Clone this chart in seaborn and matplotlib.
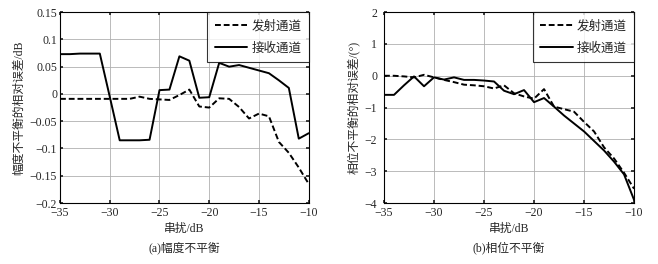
import numpy as np
import pandas as pd
import matplotlib
matplotlib.use("Agg")
import matplotlib.pyplot as plt
import seaborn as sns

# --- data ---
crosstalk = list(range(-35, -9))

amp_tx = [-0.009, -0.009, -0.009, -0.009, -0.009, -0.009, -0.009, -0.009, -0.005, -0.009,
          -0.010, -0.011, -0.002, 0.008, -0.023, -0.025, -0.008, -0.009, -0.024, -0.045,
          -0.036, -0.041, -0.088, -0.108, -0.135, -0.165]
amp_rx = [0.073, 0.073, 0.074, 0.074, 0.074, -0.005, -0.085, -0.085, -0.085, -0.084,
          0.007, 0.008, 0.069, 0.061, -0.007, -0.006, 0.057, 0.050, 0.053, 0.048,
          0.043, 0.038, 0.025, 0.011, -0.082, -0.072]

ph_tx = [0.0, 0.0, -0.02, -0.05, 0.03, -0.05, -0.13, -0.2, -0.28, -0.3,
         -0.33, -0.4, -0.3, -0.55, -0.65, -0.72, -0.42, -0.97, -1.05, -1.13,
         -1.45, -1.75, -2.25, -2.6, -3.05, -3.55]
ph_rx = [-0.6, -0.6, -0.3, -0.02, -0.33, -0.05, -0.12, -0.05, -0.13, -0.13,
         -0.15, -0.18, -0.47, -0.58, -0.45, -0.83, -0.7, -0.97, -1.25, -1.5,
         -1.75, -2.05, -2.35, -2.7, -3.1, -3.9]

series_names = ["发射通道", "接收通道"]

# --- style ---
sns.set_theme(style="ticks")
plt.rcParams['font.family'] = ['Liberation Serif', 'Noto Sans CJK SC']
plt.rcParams['axes.unicode_minus'] = True
plt.rcParams['xtick.direction'] = 'in'
plt.rcParams['ytick.direction'] = 'in'

fig = plt.figure(figsize=(6.58, 2.64), dpi=100)
ax1 = fig.add_axes([0.0912, 0.231, 0.378, 0.723])
ax2 = fig.add_axes([0.5836, 0.231, 0.380, 0.723])


def draw(ax, tx, rx, ylim, yticks, yticklabels, ylabel, caption, ypad):
    df = pd.DataFrame({
        "x": crosstalk * 2,
        "y": tx + rx,
        "ch": [series_names[0]] * len(tx) + [series_names[1]] * len(rx),
    })
    sns.lineplot(data=df, x="x", y="y", style="ch", style_order=series_names,
                 dashes={series_names[0]: (3, 1.5), series_names[1]: ""},
                 color="black", linewidth=1.4, ax=ax)
    ax.set_xlim(-35, -10)
    ax.set_ylim(*ylim)
    ax.set_xticks(range(-35, -9, 5))
    ax.set_xticklabels([str(v).replace("-", "\u2212") for v in range(-35, -9, 5)])
    ax.set_yticks(yticks)
    ax.set_yticklabels(yticklabels)
    ax.grid(True, color="#b0b0b0", linewidth=0.6)
    ax.tick_params(labelsize=8.5, length=2, top=True, right=True)
    ax.tick_params(axis="x", pad=3)
    ax.tick_params(axis="y", pad=ypad)
    for s in ax.spines.values():
        s.set_color("black")
        s.set_linewidth(0.8)
    ax.set_xlabel("串扰/dB", fontsize=8.5, labelpad=3)
    ax.set_ylabel(ylabel, fontsize=8.5, labelpad=3)
    ax.text(0.5, -0.235, caption, transform=ax.transAxes, ha="center",
            va="center", fontsize=8.5)
    leg = ax.legend(loc="upper right", fontsize=9, handlelength=2.6,
                    borderaxespad=0, frameon=True, fancybox=False,
                    borderpad=0.6, labelspacing=0.8, handletextpad=0.3)
    leg.set_title(None)
    leg.get_frame().set_edgecolor("black")
    leg.get_frame().set_linewidth(0.8)


amp_ticks = [0.15, 0.1, 0.05, 0, -0.05, -0.1, -0.15, -0.2]
amp_labels = ["0.15", "0.1", "0.05", "0", "\u22120.05", "\u22120.1", "\u22120.15", "\u22120.2"]
draw(ax1, amp_tx, amp_rx, (-0.2, 0.15), amp_ticks, amp_labels,
     "幅度不平衡的相对误差/dB", "(a)幅度不平衡", 2)

ph_ticks = [2, 1, 0, -1, -2, -3, -4]
ph_labels = ["2", "1", "0", "\u22121", "\u22122", "\u22123", "\u22124"]
draw(ax2, ph_tx, ph_rx, (-4, 2), ph_ticks, ph_labels,
     "相位不平衡的相对误差/(°)", "(b)相位不平衡", 5)

fig.savefig("out.png", dpi=100, facecolor="white")
